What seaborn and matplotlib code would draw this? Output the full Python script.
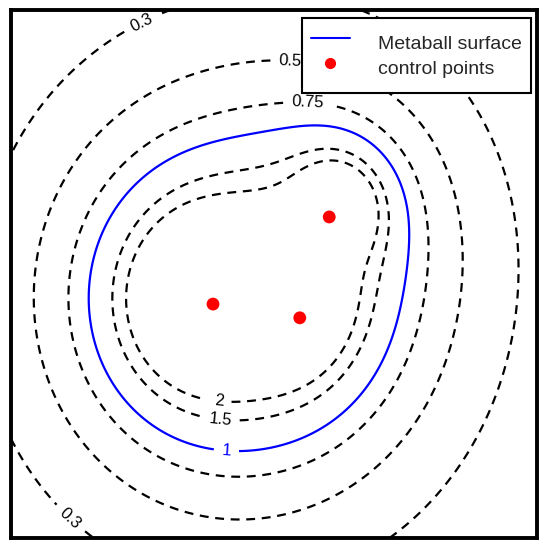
import numpy as np
import seaborn as sns
import matplotlib.pyplot as plt
from matplotlib.lines import Line2D

# control points shown on the chart (data units, box is 0..10)
point_x = [3.84, 5.49, 6.05]
point_y = [4.43, 4.17, 6.08]

# metaball centres and strengths read back from the contour shapes
ball_x = [5.16, 3.72, 6.16]
ball_y = [4.48, 4.53, 6.21]
ball_w = [2.57, 3.90, 0.84]
y_squash = 0.874  # field is a little stretched vertically

levels = [0.3, 0.5, 0.75, 1, 1.5, 2]
# where the inline contour labels sit, one list per level
label_at = {
    0.3: [(2.55, 9.62), (1.12, 0.36)],
    0.5: [(5.30, 9.00)],
    0.75: [(5.63, 8.22)],
    1: [(4.09, 1.59)],
    1.5: [(3.97, 2.16)],
    2: [(3.94, 2.46)],
}

sns.set_style("white")
plt.rcParams['font.family'] = ['Liberation Sans', 'DejaVu Sans']

# field on a grid
gx = np.linspace(0, 10, 600)
gy = np.linspace(0, 10, 600)
X, Y = np.meshgrid(gx, gy)
F = np.zeros_like(X)
for bx, by, w in zip(ball_x, ball_y, ball_w):
    F += w / ((X - bx) ** 2 + (y_squash * (Y - by)) ** 2 + 1e-9)

fig = plt.figure(figsize=(5.5, 5.52), dpi=100)
ax = fig.add_axes([0.02, 0.0254, 0.9564, 0.9565])

for lev in levels:
    if lev == 1:
        cs = ax.contour(X, Y, F, levels=[lev], colors='blue', linewidths=1.6)
    else:
        cs = ax.contour(X, Y, F, levels=[lev], colors='black', linewidths=1.6,
                        linestyles=[(0, (4, 3))])
    ax.clabel(cs, fmt='%g', fontsize=12, manual=label_at[lev], inline_spacing=8)

sns.scatterplot(x=point_x, y=point_y, color='red', s=85, edgecolor='none',
                legend=False, ax=ax, zorder=5)

handles = [Line2D([], [], color='blue', lw=1.5),
           Line2D([], [], ls='none', marker='o', color='red', ms=7)]
leg = ax.legend(handles, ['Metaball surface', 'control points'],
                loc='upper right', bbox_to_anchor=(0.9886, 0.9848),
                borderaxespad=0, fontsize=14, fancybox=False, framealpha=1,
                edgecolor='black', handlelength=2.0, handletextpad=1.44,
                handleheight=2.1, labelspacing=-0.32, borderpad=0.48)
leg.get_frame().set_linewidth(1.5)

ax.set_xlim(0, 10)
ax.set_ylim(0, 10)
ax.set_xticks([])
ax.set_yticks([])
for sp in ax.spines.values():
    sp.set_linewidth(2.8)
    sp.set_color('black')

fig.savefig('out.png', dpi=100)
